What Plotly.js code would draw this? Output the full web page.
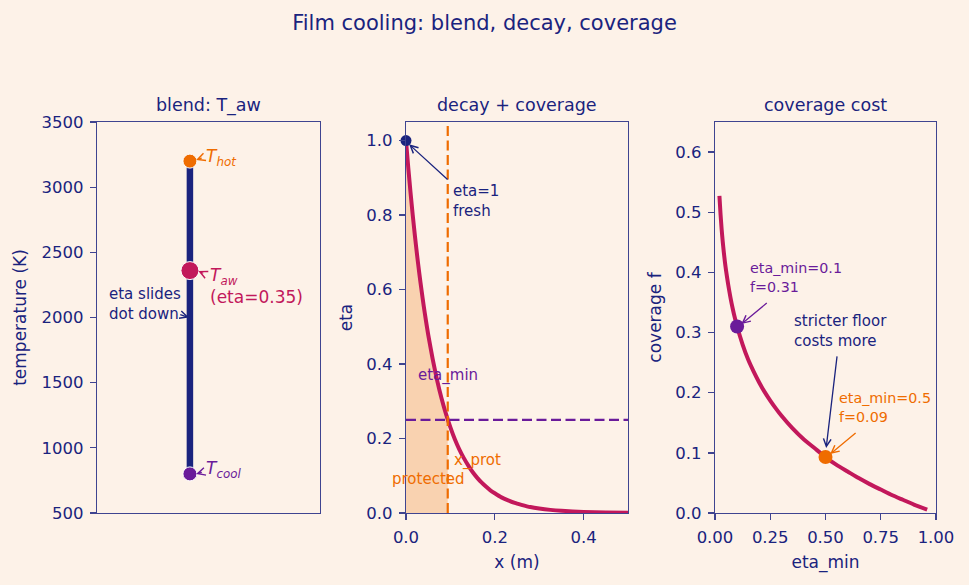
<!DOCTYPE html>
<html><head><meta charset="utf-8">
<script src="https://cdn.plot.ly/plotly-3.0.1.min.js"></script>
<style>html,body{margin:0;padding:0;background:#fdf2e8;} #chart{width:969px;height:585px;}</style>
</head><body><div id="chart"></div>
<script>
// ---------------- data ----------------
// panel 1: blend
const blendX = [0, 0];
const blendT = [800, 3200];
const pointNames = ['T_hot', 'T_aw', 'T_cool'];
const pointT = [3200, 2360, 800];
const etaDemo = 0.35;
const slideT = 2000;

// panel 2: decay + coverage
const decayX = [0, 0.005, 0.01, 0.015, 0.02, 0.025, 0.03, 0.035, 0.04, 0.045, 0.05, 0.06, 0.07, 0.08, 0.09, 0.10, 0.11, 0.12, 0.13, 0.14, 0.15, 0.16, 0.17, 0.18, 0.19, 0.20, 0.215, 0.23, 0.245, 0.26, 0.28, 0.30, 0.325, 0.35, 0.40, 0.45, 0.50];
const decayEta = [1.0, 0.929, 0.863, 0.802, 0.745, 0.692, 0.643, 0.598, 0.555, 0.516, 0.479, 0.414, 0.357, 0.308, 0.266, 0.230, 0.198, 0.171, 0.148, 0.128, 0.110, 0.095, 0.082, 0.071, 0.061, 0.053, 0.042, 0.034, 0.027, 0.022, 0.016, 0.012, 0.0084, 0.006, 0.003, 0.0013, 0.0006];
const protX = [0, 0.005, 0.01, 0.015, 0.02, 0.025, 0.03, 0.035, 0.04, 0.045, 0.05, 0.06, 0.07, 0.08, 0.09, 0.094];
const protEta = [1.0, 0.929, 0.863, 0.802, 0.745, 0.692, 0.643, 0.598, 0.555, 0.516, 0.479, 0.414, 0.357, 0.308, 0.266, 0.25];
const etaFloor = 0.25;
const xProt = 0.094;
const xRange2 = [0, 0.5];
const yRange2 = [0, 1.05];

// panel 3: coverage cost
const etaMin = [0.02, 0.025, 0.03, 0.035, 0.04, 0.045, 0.05, 0.06, 0.07, 0.08, 0.09, 0.10, 0.125, 0.15, 0.175, 0.20, 0.225, 0.25, 0.275, 0.30, 0.35, 0.40, 0.45, 0.50, 0.55, 0.60, 0.65, 0.70, 0.75, 0.80, 0.85, 0.90, 0.96];
const coverage = [0.527, 0.497, 0.472, 0.451, 0.433, 0.417, 0.403, 0.379, 0.358, 0.340, 0.324, 0.310, 0.280, 0.255, 0.235, 0.217, 0.201, 0.187, 0.174, 0.162, 0.141, 0.123, 0.108, 0.093, 0.080, 0.069, 0.058, 0.048, 0.039, 0.030, 0.022, 0.014, 0.0055];
const ptEta = [0.1, 0.5];
const ptF = [0.31, 0.093];

// ---------------- style ----------------
const NAVY = '#1a237e', ORANGE = '#ef6c00', CRIMSON = '#c2185b', PURPLE = '#6a1b9a';
const BG = '#fdf2e8', SPINE = '#3f4490';
const FONT = 'DejaVu Sans, Verdana, sans-serif';
const W = 969, H = 585;
const dxp = (a, b) => [a / W, b / W];
const dyp = (t, b) => [1 - b / H, 1 - t / H];

const traces = [
  {x: blendX, y: blendT, xaxis: 'x', yaxis: 'y', mode: 'lines', line: {color: NAVY, width: 6.5}, hoverinfo: 'skip'},
  {x: pointT.map(() => 0), y: pointT, xaxis: 'x', yaxis: 'y', mode: 'markers', text: pointNames,
   marker: {color: [ORANGE, CRIMSON, PURPLE], size: [14, 18, 14], opacity: 1}, cliponaxis: false},
  {x: protX, y: protEta, xaxis: 'x2', yaxis: 'y2', mode: 'lines', fill: 'tozeroy',
   fillcolor: 'rgba(239,108,0,0.24)', line: {width: 0, shape: 'spline'}, hoverinfo: 'skip'},
  {x: decayX, y: decayEta, xaxis: 'x2', yaxis: 'y2', mode: 'lines', line: {color: CRIMSON, width: 4, shape: 'spline', smoothing: 0.6}},
  {x: xRange2, y: [etaFloor, etaFloor], xaxis: 'x2', yaxis: 'y2', mode: 'lines', line: {color: PURPLE, width: 2.2, dash: '10px,4.5px'}},
  {x: [xProt, xProt], y: yRange2, xaxis: 'x2', yaxis: 'y2', mode: 'lines', line: {color: ORANGE, width: 2.2, dash: '10px,4.5px'}},
  {x: [decayX[0]], y: [decayEta[0]], xaxis: 'x2', yaxis: 'y2', mode: 'markers', marker: {color: NAVY, size: 11, opacity: 1}, cliponaxis: false},
  {x: etaMin, y: coverage, xaxis: 'x3', yaxis: 'y3', mode: 'lines', line: {color: CRIMSON, width: 4, shape: 'spline', smoothing: 0.6}},
  {x: ptEta, y: ptF, xaxis: 'x3', yaxis: 'y3', mode: 'markers', marker: {color: [PURPLE, ORANGE], size: 14, opacity: 1}, cliponaxis: false}
];

const axBase = {
  showline: true, mirror: true, linecolor: SPINE, linewidth: 1.3,
  ticks: 'outside', ticklen: 6, tickwidth: 1.3, tickcolor: SPINE, ticklabelstandoff: 3,
  tickfont: {size: 16.5, color: NAVY, family: FONT},
  showgrid: false, zeroline: false, fixedrange: true
};
const tf = (t, s) => ({text: t, font: {size: 17, color: NAVY, family: FONT}, standoff: s});

const layout = {
  width: W, height: H,
  paper_bgcolor: BG, plot_bgcolor: BG,
  margin: {l: 0, r: 0, t: 0, b: 0},
  showlegend: false,
  font: {family: FONT, color: NAVY},
  title: {text: 'Film cooling: blend, decay, coverage', font: {size: 21, color: NAVY, family: FONT},
          x: 0.5, xanchor: 'center', y: 1 - 23 / H, yanchor: 'middle'},
  xaxis: Object.assign({}, axBase, {domain: dxp(97, 320), range: [-0.5, 0.7], ticks: '', showticklabels: false}),
  yaxis: Object.assign({}, axBase, {domain: dyp(122, 513), range: [500, 3500], dtick: 500, title: tf('temperature (K)', 10)}),
  xaxis2: Object.assign({}, axBase, {domain: dxp(406, 628), anchor: 'y2', range: xRange2, dtick: 0.2, tickformat: '.1f', title: tf('x (m)', 10)}),
  yaxis2: Object.assign({}, axBase, {domain: dyp(122, 513), anchor: 'x2', range: yRange2, dtick: 0.2, tickformat: '.1f', title: tf('eta', 9)}),
  xaxis3: Object.assign({}, axBase, {domain: dxp(715, 936), anchor: 'y3', range: [0, 1], dtick: 0.25, tickformat: '.2f', title: tf('eta_min', 10)}),
  yaxis3: Object.assign({}, axBase, {domain: dyp(122, 513), anchor: 'x3', range: [0, 0.65], dtick: 0.1, tickformat: '.1f', title: tf('coverage f', 9)}),
  annotations: []
};

const A = layout.annotations;
function sub(text, cx) {
  A.push({text: text, xref: 'paper', yref: 'paper', x: cx / W, y: 1 - 105 / H, xanchor: 'center', yanchor: 'middle',
          showarrow: false, font: {size: 17.5, color: NAVY, family: FONT}});
}
sub('blend: T_aw', 208.5);
sub('decay + coverage', 517);
sub('coverage cost', 825.5);

function txt(xr, yr, x, y, text, color, size) {
  A.push({xref: xr, yref: yr, x: x, y: y, text: text, showarrow: false, xanchor: 'left', yanchor: 'middle', align: 'left',
          font: {size: size || 15, color: color, family: FONT}});
}
function arr(xr, yr, x, y, ax, ay, color) {
  A.push({xref: xr, yref: yr, axref: xr, ayref: yr, x: x, y: y, ax: ax, ay: ay, text: '', showarrow: true,
          arrowhead: 5, arrowsize: 1.15, arrowwidth: 1.3, arrowcolor: color, standoff: 0, startstandoff: 0});
}

// panel 1 labels
txt('x', 'y', 0.076, 3231, '<i>T</i><sub><i>hot</i></sub>', ORANGE, 17);
arr('x', 'y', 0.033, 3208, 0.072, 3228, ORANGE);
txt('x', 'y', 0.097, 2245, '<i>T</i><sub><i>aw</i></sub><br>(eta=' + etaDemo.toFixed(2) + ')', CRIMSON, 17);
arr('x', 'y', 0.045, 2357, 0.080, 2334, CRIMSON);
txt('x', 'y', 0.076, 830, '<i>T</i><sub><i>cool</i></sub>', PURPLE, 17);
arr('x', 'y', 0.033, 799, 0.072, 815, PURPLE);
txt('x', 'y', -0.446, 2100, 'eta slides<br>dot down', NAVY, 15);
arr('x', 'y', -0.005, slideT, -0.06, 2025, NAVY);

// panel 2 labels
txt('x2', 'y2', 0.1015, 0.838, 'eta=1<br>fresh', NAVY, 15);
arr('x2', 'y2', 0.007, 0.99, 0.097, 0.892, NAVY);
txt('x2', 'y2', 0.0226, 0.370, 'eta_min', PURPLE, 15);
txt('x2', 'y2', 0.104, 0.142, 'x_prot', ORANGE, 15);
txt('paper', 'y2', 390 / W, 0.091, 'protected', ORANGE, 15);

// panel 3 labels
txt('x3', 'y3', 0.150, 0.391, 'eta_min=' + ptEta[0] + '<br>f=' + ptF[0].toFixed(2), PURPLE, 14.3);
arr('x3', 'y3', 0.119, 0.314, 0.241, 0.351, PURPLE);
txt('x3', 'y3', 0.349, 0.3026, 'stricter floor<br>costs more', NAVY, 15);
arr('x3', 'y3', 0.503, 0.108, 0.553, 0.263, NAVY);
txt('x3', 'y3', 0.553, 0.176, 'eta_min=' + ptEta[1] + '<br>f=' + ptF[1].toFixed(2), ORANGE, 14.3);
arr('x3', 'y3', 0.521, 0.098, 0.643, 0.135, ORANGE);

Plotly.newPlot('chart', traces, layout, {displayModeBar: false, staticPlot: true});
</script>
</body></html>
